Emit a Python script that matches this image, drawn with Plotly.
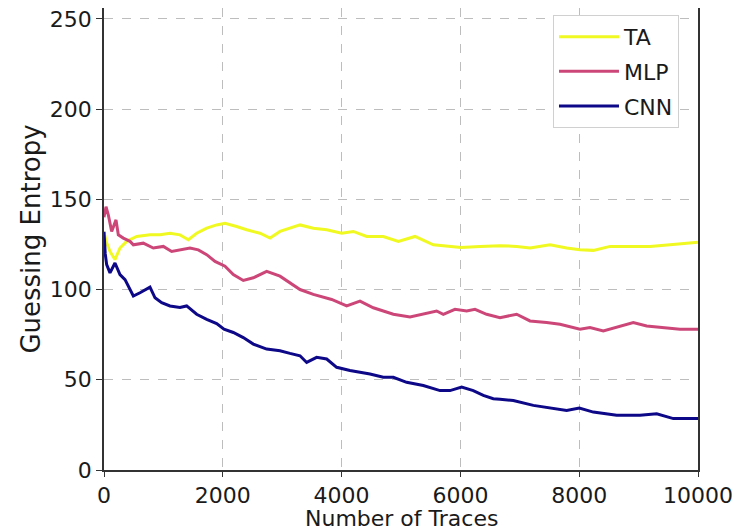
import plotly.graph_objects as go

# ---- data ----
ta_x = [0, 34, 101, 185, 269, 382, 550, 774, 943, 1111, 1279, 1420, 1560, 1729, 1897, 2037,
        2233, 2402, 2626, 2795, 2963, 3131, 3300, 3524, 3749, 4001, 4197, 4422, 4702, 4955,
        5236, 5544, 5769, 6010, 6330, 6667, 6947, 7172, 7508, 7789, 8013, 8238, 8519, 8911,
        9192, 9529, 9809, 10000]
ta_y = [132, 126.7, 121.1, 116.6, 123, 126.7, 129.4, 130.3, 130.3, 131.2, 130.3, 127.6, 131.2, 134, 135.8, 136.7,
        134.9, 133.1, 131.2, 128.5, 132.2, 134, 135.8, 134, 133.1, 131.2, 132.2, 129.4, 129.4, 126.7,
        129.4, 124.8, 123.9, 123.3, 123.9, 124.3, 123.9, 123, 124.8, 123, 122, 121.7, 123.9, 123.9,
        123.9, 124.8, 125.7, 126.2]

mlp_x = [0, 34, 73, 129, 202, 241, 325, 438, 494, 662, 830, 999, 1139, 1307, 1448, 1588,
         1729, 1869, 2037, 2177, 2345, 2514, 2739, 2963, 3131, 3300, 3524, 3833, 4085, 4310,
         4534, 4871, 5152, 5376, 5600, 5712, 5909, 6106, 6246, 6442, 6667, 6947, 7172, 7452,
         7677, 8013, 8182, 8406, 8631, 8911, 9136, 9416, 9697, 10000]
mlp_y = [140, 145.9, 141.3, 132.2, 138.6, 130.3, 128.5, 126.7, 124.8, 125.7, 123, 123.9, 121.1, 122, 123, 122,
         119.3, 115.6, 112.9, 108.3, 105, 106.5, 110.1, 107.4, 103.7, 100, 97.3, 94.5, 90.9, 93.6,
         89.9, 86.3, 84.8, 86.3, 88.1, 86.3, 89, 88.1, 89, 86.3, 84.4, 86.3, 82.6, 81.7,
         80.8, 78, 79, 77.1, 79, 81.7, 79.8, 79, 78, 78]

cnn_x = [0, 20, 45, 101, 185, 269, 354, 494, 606, 774, 859, 971, 1111, 1279, 1392, 1560,
         1729, 1897, 2020, 2177, 2345, 2514, 2739, 2963, 3131, 3300, 3412, 3580, 3749, 3917,
         4141, 4310, 4478, 4702, 4871, 5095, 5376, 5657, 5825, 6021, 6217, 6386, 6554, 6667,
         6891, 7228, 7565, 7789, 8002, 8238, 8631, 9024, 9305, 9585, 10000]
cnn_y = [132, 120, 113.8, 109.2, 114.7, 108.3, 105.5, 96.4, 98.2, 101.3, 95.4, 92.7, 90.9, 90, 90.9, 86.3,
         83.5, 81.1, 78, 76.2, 73.4, 69.8, 67, 66.1, 64.6, 63.3, 59.6, 62.4, 61.5, 56.9,
         55.1, 54.1, 53.2, 51.4, 51.4, 48.6, 46.8, 44, 44, 45.9, 44, 41.3, 39.5, 39.2,
         38.5, 35.8, 34, 33, 34.3, 32.1, 30.3, 30.3, 31.2, 28.5, 28.5]

series = [("TA", ta_x, ta_y, "#f0f921"),
          ("MLP", mlp_x, mlp_y, "#cc4778"),
          ("CNN", cnn_x, cnn_y, "#0d0887")]

x_ticks = [0, 2000, 4000, 6000, 8000, 10000]
y_ticks = [0, 50, 100, 150, 200, 250]

FONT = "DejaVu Sans"

fig = go.Figure()
for name, xs, ys, col in series:
    fig.add_trace(go.Scatter(x=xs, y=ys, mode="lines", name=name, legendgroup=name,
                             line=dict(color=col, width=3)))

fig.update_layout(
    template="none",
    width=741, height=524,
    margin=dict(l=96, r=51, t=0, b=62, autoexpand=False),
    paper_bgcolor="white", plot_bgcolor="white",
    font=dict(family=FONT, size=22, color="#1a1a1a"),
    showlegend=True,
    legend=dict(x=0.968, y=0.985, xanchor="right", yanchor="top",
                bgcolor="white", bordercolor="#d0d0d0", borderwidth=1,
                font=dict(family=FONT, size=22, color="#1a1a1a"),
                tracegroupgap=3, itemwidth=60),
    annotations=[dict(text="Number of Traces", xref="paper", yref="paper",
                      x=0.5, y=-0.1342, xanchor="center", yanchor="bottom",
                      showarrow=False, borderpad=0,
                      font=dict(family=FONT, size=22, color="#1a1a1a"))],
)
fig.update_xaxes(range=[0, 10000], tickvals=x_ticks, ticktext=[str(v) for v in x_ticks],
                 showline=True, linecolor="#333333", linewidth=1.5, mirror=True,
                 ticks="outside", ticklen=5, tickcolor="#333333", tickwidth=1.2,
                 showgrid=True, gridcolor="#bdbdbd", griddash="dash", gridwidth=1,
                 zeroline=False, ticklabeloverflow="allow", automargin=False)
fig.update_yaxes(range=[0, 256], tickvals=y_ticks, ticktext=[str(v) for v in y_ticks],
                 showline=True, linecolor="#333333", linewidth=1.5, mirror=True,
                 ticks="outside", ticklen=6, tickcolor="#333333", tickwidth=1.2,
                 showgrid=True, gridcolor="#bdbdbd", griddash="dash", gridwidth=1,
                 zeroline=False, ticklabeloverflow="allow", automargin=False,
                 title=dict(text="Guessing Entropy", standoff=2))

fig.write_html("out.html")
